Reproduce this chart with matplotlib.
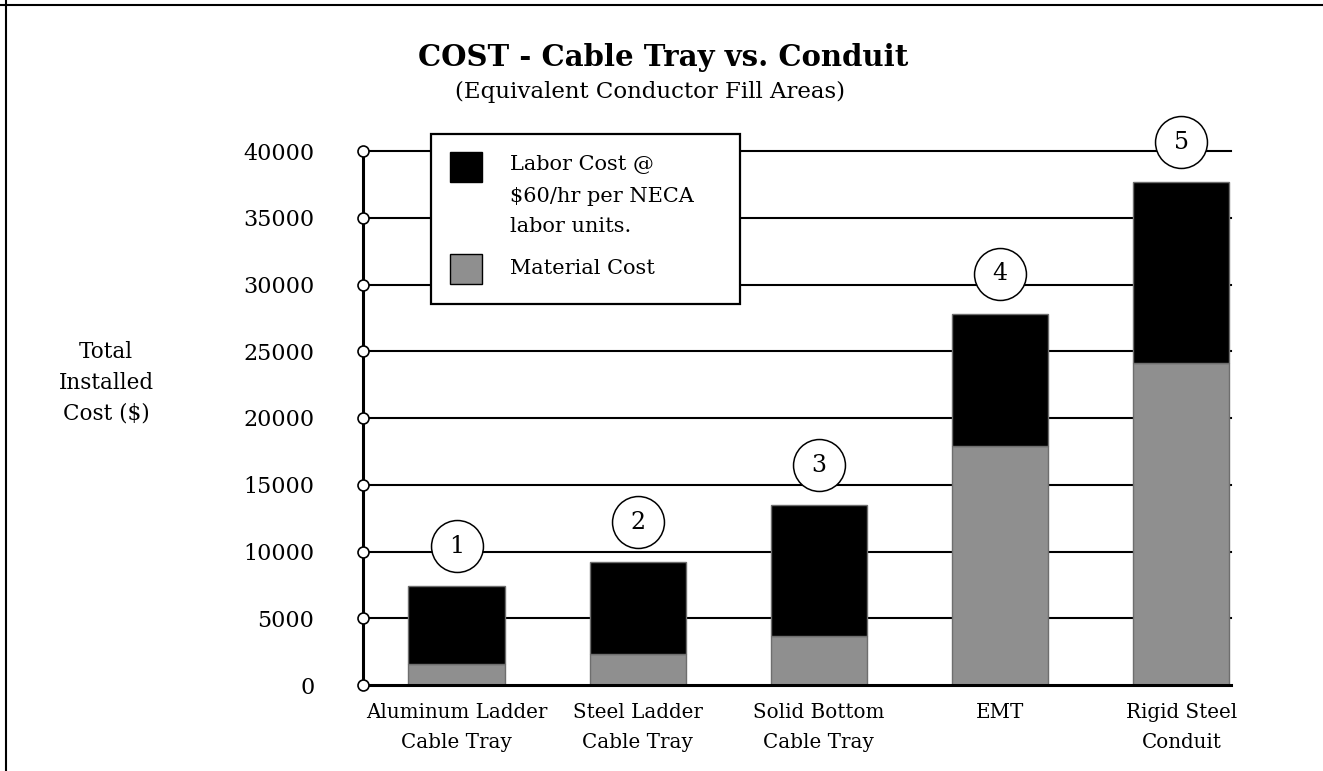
import matplotlib
matplotlib.use("Agg")
import matplotlib.pyplot as plt
import matplotlib.transforms as mtransforms
from matplotlib.lines import Line2D
from matplotlib.patches import Rectangle
import numpy as np

# ---- data ----
categories = ["Aluminum Ladder\nCable Tray", "Steel Ladder\nCable Tray",
              "Solid Bottom\nCable Tray", "EMT", "Rigid Steel\nConduit"]
material_cost = [1600, 2350, 3700, 17900, 24100]
total_cost = [7400, 9200, 13450, 27800, 37650]
labor_cost = [t - m for t, m in zip(total_cost, material_cost)]
bar_numbers = ["1", "2", "3", "4", "5"]
y_ticks = list(range(0, 40001, 5000))
y_tick_labels = [str(v) for v in y_ticks]
legend_labels = [["Labor Cost @", "$60/hr per NECA", "labor units."], ["Material Cost"]]
title = "COST - Cable Tray vs. Conduit"
subtitle = "(Equivalent Conductor Fill Areas)"
y_label = "Total\nInstalled\nCost ($)"

# ---- style ----
W, H = 1323, 771
plt.rcParams['font.family'] = ['DejaVu Serif']
LABOR = "#000000"
MATERIAL = "#8f8f8f"
EDGE = "#6e6e6e"


def fx(x):
    return x / W


def fy(y):
    return 1 - y / H


fig = plt.figure(figsize=(W / 100, H / 100), dpi=100)
ax = fig.add_axes([fx(363), fy(685), (1231 - 363) / W, (685 - 151) / H])

x = np.arange(len(categories))
bw = 0.53
ax.bar(x, material_cost, width=bw, color=MATERIAL, edgecolor=EDGE, linewidth=1.0, zorder=3)
ax.bar(x, labor_cost, width=bw, bottom=material_cost, color=LABOR, edgecolor=EDGE,
       linewidth=1.0, zorder=3)

ax.set_xlim(-0.516, 4.274)
ax.set_ylim(0, 40000)
ax.set_yticks(y_ticks)
ax.set_yticklabels(y_tick_labels, fontsize=16)
ax.set_xticks(x)
ax.set_xticklabels(categories, fontsize=14.3, linespacing=1.7)
ax.tick_params(axis='y', length=0, pad=35)
ax.tick_params(axis='x', length=0, pad=13)

for s in ['top', 'right']:
    ax.spines[s].set_visible(False)
for s in ['left', 'bottom']:
    ax.spines[s].set_linewidth(2.2)
    ax.spines[s].set_zorder(4)

# gridlines
for v in y_ticks[1:]:
    ax.axhline(v, color='black', lw=1.5, zorder=1, clip_on=False)

# tick circles on the y axis
ax.plot([ax.get_xlim()[0]] * len(y_ticks), y_ticks, 'o', ms=7.9, mfc='white',
        mec='black', mew=1.2, clip_on=False, zorder=6)

# numbered circles above bars
off = mtransforms.offset_copy(ax.transData, fig=fig, x=0, y=40, units='dots')
for xi, t, lab in zip(x, total_cost, bar_numbers):
    ax.plot([xi], [t], 'o', ms=37.4, mfc='white', mec='black', mew=1.1,
            transform=off, clip_on=False, zorder=7)
    ax.text(xi, t, lab, transform=off, ha='center', va='center', fontsize=17,
            zorder=8, clip_on=False)

# legend box
fig.add_artist(Rectangle((fx(431), fy(304)), (740 - 431) / W, (304 - 134) / H,
                         transform=fig.transFigure, facecolor='white', edgecolor='black',
                         linewidth=1.6, zorder=10))
fig.add_artist(Rectangle((fx(450), fy(182)), 32 / W, 30 / H, transform=fig.transFigure,
                         facecolor=LABOR, edgecolor='black', linewidth=1.0, zorder=11))
fig.add_artist(Rectangle((fx(450), fy(284)), 32 / W, 30 / H, transform=fig.transFigure,
                         facecolor=MATERIAL, edgecolor='black', linewidth=1.0, zorder=11))
for i, line in enumerate(legend_labels[0]):
    fig.text(fx(510), fy(165 + 31 * i), line, ha='left', va='center', fontsize=15, zorder=12)
fig.text(fx(510), fy(268), legend_labels[1][0], ha='left', va='center', fontsize=15, zorder=12)

# titles
fig.text(fx(663), fy(57), title, ha='center', va='center', fontsize=21, fontweight='bold')
fig.text(fx(650), fy(92), subtitle, ha='center', va='center', fontsize=16.5)
fig.text(fx(106), fy(383), y_label, ha='center', va='center', fontsize=15.5,
         multialignment='center', linespacing=1.5)

# partial frame (top and left)
fig.add_artist(Line2D([0, 1], [fy(5), fy(5)], transform=fig.transFigure, color='black', lw=1.5))
fig.add_artist(Line2D([fx(6), fx(6)], [0, 1], transform=fig.transFigure, color='black', lw=1.5))

fig.savefig("out.png", dpi=100)
